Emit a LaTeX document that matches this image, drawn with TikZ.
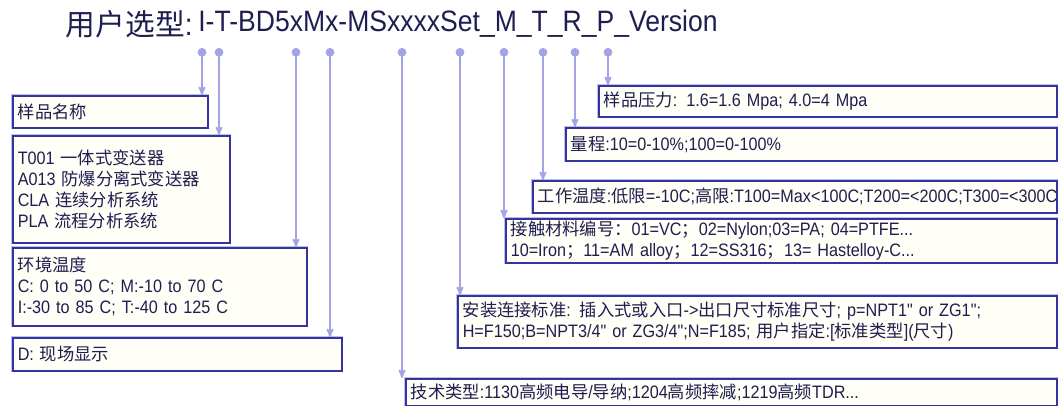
\documentclass[tikz,border=0pt]{standalone}
\usepackage{fontspec}
\setmainfont{Liberation Sans}[FakeStretch=0.9,Ligatures=TeXOff]
\newfontfamily\cjk{Noto Sans CJK SC}[Scale=0.96]
\usetikzlibrary{arrows,positioning}
\definecolor{ink}{HTML}{1E1E50}
\definecolor{frame}{HTML}{3434A0}
\definecolor{leadc}{HTML}{A3A3E6}
\definecolor{paper}{HTML}{FFFFF7}

\begin{document}
\begin{tikzpicture}[x=1pt, y=-1pt, >=stealth', semithick, text=ink,
  font=\fontsize{18}{21}\selectfont]
\tikzstyle{box}=[draw=frame,line width=1.5pt,fill=paper,anchor=north west,inner xsep=5pt,inner ysep=1pt,align=left,
  preaction={draw=leadc!70,line width=3.2pt}]
\tikzstyle{every edge}=[draw=leadc,line width=1.8pt,*->]
\useasboundingbox (0,0) rectangle (1059,405);

% title
\node[anchor=west,inner sep=0pt,font=\fontsize{29.5}{32}\selectfont] (code) at (198,24)
  {I-T-BD5xMx-MSxxxxSet\_M\_T\_R\_P\_Version};
\node[left=0pt of code,inner sep=0pt,font=\fontsize{31}{32}\selectfont] (head) {{\cjk 用户选型}:\,};

% picks on the title
\coordinate (cI)  at (202,48);
\coordinate (cT)  at (219,48);
\coordinate (cE)  at (296,48);
\coordinate (cD)  at (330,48);
\coordinate (cK)  at (402,48);
\coordinate (cS)  at (460,48);
\coordinate (cM)  at (504,48);
\coordinate (cTm) at (543,48);
\coordinate (cR)  at (575,48);
\coordinate (cP)  at (608,48);

% left boxes
\node[box,text width=185pt,minimum height=32pt] (name) at (12,95) {\cjk 样品名称};
\node[box,text width=207pt,minimum height=107pt] (type) at (12,135)
  {T001 {\cjk 一体式变送器}\\A013 {\cjk 防爆分离式变送器}\\CLA {\cjk 连续分析系统}\\PLA {\cjk 流程分析系统}};
\node[box,text width=284pt,minimum height=78pt] (env) at (12,247)
  {{\cjk 环境温度}\\C: 0 to 50 C; M:-10 to 70 C\\I:-30 to 85 C; T:-40 to 125 C};
\node[box,text width=319pt,minimum height=33pt] (disp) at (12,337) {D: {\cjk 现场显示}};

% right boxes
\node[box,text width=448pt,minimum height=31pt] (press) at (598,85)
  {{\cjk 样品压力}: 1.6=1.6 Mpa; 4.0=4 Mpa};
\node[box,text width=481pt,minimum height=33pt] (range) at (565,127)
  {{\cjk 量程}:10=0-10\%;100=0-100\%};
\node[box,text width=514pt,minimum height=32pt] (temp) at (532,180)
  {\mbox{{\cjk 工作温度}:{\cjk 低限}=-10C;{\cjk 高限}:T100=Max<100C;T200=<200C;T300=<300C}};
\node[box,text width=541pt,minimum height=44pt] (mat) at (505,218)
  {{\cjk 接触材料编号：}01=VC{\cjk ；}02=Nylon;03=PA; 04=PTFE...\\10=Iron{\cjk ；}11=AM alloy{\cjk ；}12=SS316{\cjk ；}13= Hastelloy-C...};
\node[box,text width=589pt,minimum height=52pt] (mount) at (457,295)
  {{\cjk 安装连接标准}: {\cjk 插入式或入口}->{\cjk 出口尺寸标准尺寸}; p=NPT1" or ZG1";\\H=F150;B=NPT3/4" or ZG3/4";N=F185; {\cjk 用户指定}:[{\cjk 标准类型}]({\cjk 尺寸})};
\node[box,text width=641pt,minimum height=27pt] (tech) at (405,378)
  {{\cjk 技术类型}:1130{\cjk 高频电导}/{\cjk 导纳};1204{\cjk 高频摔减};1219{\cjk 高频}TDR...};

\path
(cI)  edge (cI |- name.north)
(cT)  edge (cT |- type.north)
(cE)  edge (cE |- env.north)
(cD)  edge (cD |- disp.north)
(cK)  edge (cK |- tech.north)
(cS)  edge (cS |- mount.north)
(cM)  edge (cM |- mat.north)
(cTm) edge (cTm |- temp.north)
(cR)  edge (cR |- range.north)
(cP)  edge (cP |- press.north);
\end{tikzpicture}
\end{document}
